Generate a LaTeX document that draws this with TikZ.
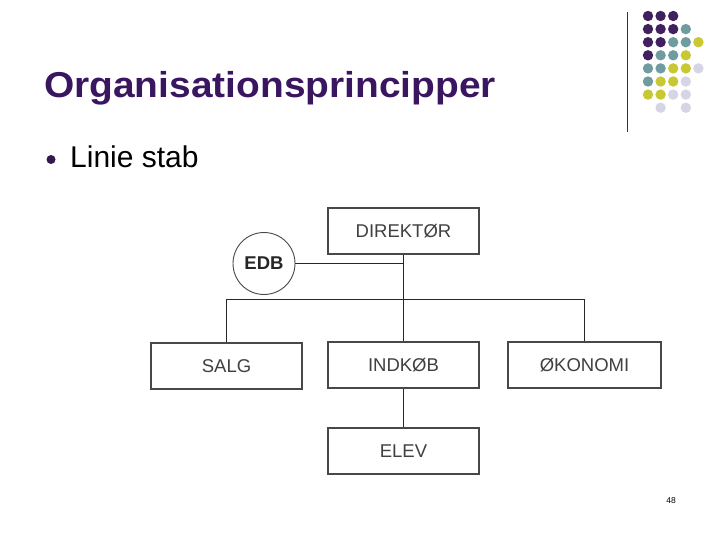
\documentclass[tikz,border=0pt]{standalone}
\usepackage{fontspec}
\setmainfont{Liberation Sans}
\usetikzlibrary{calc}
\definecolor{ttl}{HTML}{3A1660}
\definecolor{dP}{HTML}{41205F}
\definecolor{dT}{HTML}{6F9D9F}
\definecolor{dY}{HTML}{C8C832}
\definecolor{dL}{HTML}{D5D5E6}
\definecolor{boxline}{HTML}{484848}
\definecolor{boxtext}{HTML}{404040}
\tikzset{
  orgbox/.style={draw=boxline, line width=1.8pt, rectangle, minimum width=151pt, minimum height=46pt, inner sep=0pt, text=boxtext, font=\fontsize{18.5}{20}\selectfont},
  edbcircle/.style={draw=boxline, line width=0.9pt, circle, minimum size=62pt, inner sep=0pt, font=\fontsize{18.5}{20}\selectfont\bfseries, text=black!85},
  conn/.style={draw=black!85, line width=1.3pt}
}
\begin{document}
\begin{tikzpicture}[x=1pt,y=-1pt]
\useasboundingbox[fill=white] (0,0) rectangle (720,540);
% decoration top right
\draw[black!80, line width=1pt] (627.5,12) -- (627.5,132);
\foreach \r/\cols in {0/{0/dP,1/dP,2/dP},1/{0/dP,1/dP,2/dP,3/dT},2/{0/dP,1/dP,2/dT,3/dT,4/dY},3/{0/dP,1/dT,2/dT,3/dY},4/{0/dT,1/dT,2/dY,3/dY,4/dL},5/{0/dT,1/dY,2/dY,3/dL},6/{0/dY,1/dY,2/dL,3/dL},7/{1/dL,3/dL}}{
  \foreach \c/\col in \cols {
    \fill[\col] ({648+12.6*\c},{16+13.1*\r}) circle[radius=5.2pt];
  }
}
% title
\node[anchor=base west, inner sep=0pt, text=ttl, font=\fontsize{36}{42}\selectfont\bfseries] (title) at (44,98) {\scalebox{1.08}[1]{Organisationsprincipper}};
% bullet
\fill[dP!80!black] (51,159.5) circle[radius=4.5pt];
\node[anchor=base west, inner sep=0pt, font=\fontsize{30}{35}\selectfont] (bullet) at (70,168) {Linie stab};
% org chart
\node[orgbox] (dir) at (403.5,231) {DIREKTØR};
\node[edbcircle] (edb) at (264,263.5) {EDB};
\node[orgbox] (salg) at (226.5,366) {SALG};
\node[orgbox] (indkob) at (403.5,365) {INDKØB};
\node[orgbox, minimum width=153pt] (okon) at (584.5,365) {ØKONOMI};
\node[orgbox] (elev) at (403.5,451) {ELEV};
\coordinate (bar) at (403.5,299.5);
\draw[conn] (dir.south) -- (indkob.north);
\draw[conn] (edb.east) -- (edb.east -| dir.south);
\draw[conn] (salg.north) |- (bar) -| (okon.north);
\draw[conn] (indkob.south) -- (elev.north);
% page number
\node[font=\fontsize{8.5}{10}\selectfont] (page) at (671,501) {48};
\end{tikzpicture}
\end{document}
